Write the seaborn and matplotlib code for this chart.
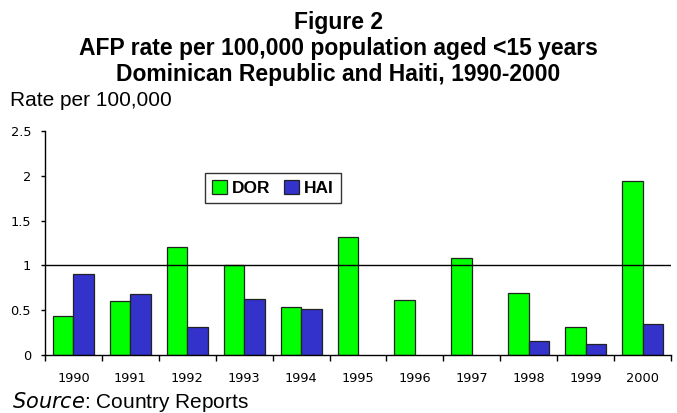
import matplotlib
matplotlib.use("Agg")
import matplotlib.pyplot as plt
import seaborn as sns
import pandas as pd
import numpy as np

years = ["1990", "1991", "1992", "1993", "1994", "1995", "1996", "1997", "1998", "1999", "2000"]
dor = [0.44, 0.60, 1.20, 1.00, 0.54, 1.32, 0.61, 1.08, 0.69, 0.31, 1.94]
hai = [0.90, 0.68, 0.31, 0.62, 0.51, None, None, None, 0.16, 0.12, 0.35]
series = ["DOR", "HAI"]
colors = ["#00FF00", "#3333CC"]
yticks = [0, 0.5, 1, 1.5, 2, 2.5]
ytick_labels = ["0", "0.5", "1", "1.5", "2", "2.5"]

rows = []
for y, d, h in zip(years, dor, hai):
    rows.append({"year": y, "series": "DOR", "rate": d})
    if h is not None:
        rows.append({"year": y, "series": "HAI", "rate": h})
df = pd.DataFrame(rows)

sns.set_theme(style="white")
plt.rcParams["font.family"] = ["Liberation Sans", "DejaVu Sans"]
plt.rcParams["text.color"] = "black"
plt.rcParams["xtick.color"] = "black"
plt.rcParams["ytick.color"] = "black"
plt.rcParams["xtick.labelcolor"] = "black"
plt.rcParams["ytick.labelcolor"] = "black"

fig = plt.figure(figsize=(6.77, 4.13), dpi=100)
ax = fig.add_axes([45/677, 1-355/413, (671-45)/677, (355-131)/413])

sns.barplot(data=df, x="year", y="rate", hue="series", order=years,
            hue_order=series, palette=colors, width=0.72, ax=ax,
            edgecolor="#222222", linewidth=0.9, saturation=1, errorbar=None)

ax.axhline(1, color="black", lw=1, zorder=5)
ax.set_xlim(-0.5, len(years) - 0.5)
ax.set_ylim(0, 2.5)
ax.set_yticks(yticks)
ax.set_yticklabels(ytick_labels)
ax.set_xlabel("")
ax.set_ylabel("")
for s in ["top", "right"]:
    ax.spines[s].set_visible(False)
for s in ["left", "bottom"]:
    ax.spines[s].set_color("black")
    ax.spines[s].set_linewidth(1)

ax.tick_params(axis="y", which="major", direction="out", length=3, width=1,
               color="black", pad=7, left=True, labelcolor="black")
ax.set_xticks(np.arange(-0.5, len(years), 1), minor=True)
ax.tick_params(axis="x", which="minor", direction="out", length=4, width=1,
               color="black", bottom=True)
ax.tick_params(axis="x", which="major", length=0, pad=12, labelcolor="black")
for lab in ax.get_xticklabels():
    lab.set_fontfamily(["DejaVu Sans"])
    lab.set_fontsize(9.3)
for lab in ax.get_yticklabels():
    lab.set_fontfamily(["DejaVu Sans"])
    lab.set_fontsize(9.3)

leg = ax.legend(loc="upper left", bbox_to_anchor=((205-45)/626, (355-173)/224),
                ncol=2, frameon=True, fancybox=False, edgecolor="black",
                prop={"weight": "bold", "size": 12.5}, handlelength=0.85,
                handleheight=0.85, handletextpad=0.3, columnspacing=0.8,
                borderpad=0.4, borderaxespad=0)
leg.get_frame().set_linewidth(1)
for t in leg.get_texts():
    t.set_color("black")

title_kw = dict(ha="center", va="baseline", fontsize=16.5, fontweight="bold",
                color="black")
fig.text(0.5, 1-29/413, "Figure 2", **title_kw)
fig.text(0.5, 1-55/413, "AFP rate per 100,000 population aged <15 years", **title_kw)
fig.text(0.5, 1-81/413, "Dominican Republic and Haiti, 1990-2000", **title_kw)
fig.text(10/677, 1-106/413, "Rate per 100,000", ha="left", va="baseline",
         fontsize=15, color="black")
fig.text(12/677, 1-408/413, "$\\it{Source}$: Country Reports", ha="left",
         va="baseline", fontsize=15, color="black")

fig.savefig("out.png", dpi=100)
